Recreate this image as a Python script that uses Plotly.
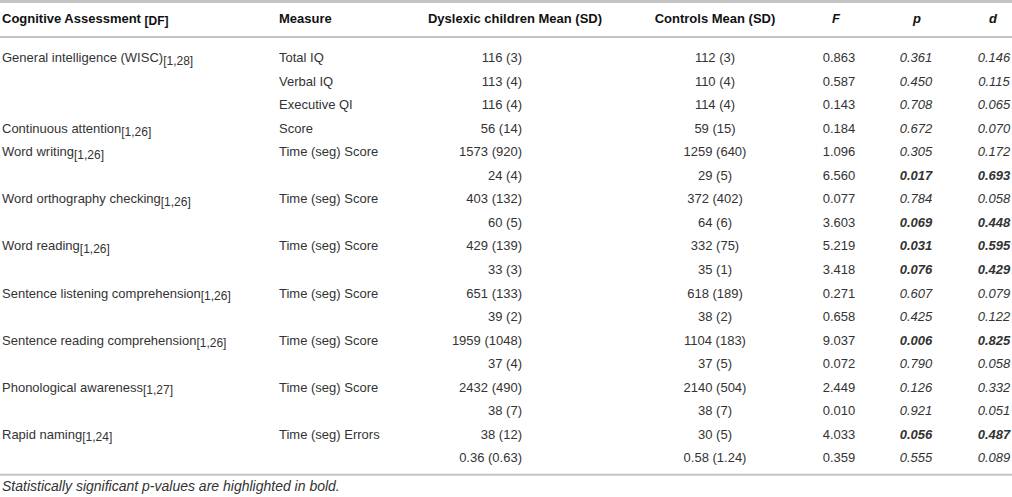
import plotly.graph_objects as go

# Table content
assessments = ["General intelligence (WISC)", "", "", "Continuous attention", "Word writing", "",
               "Word orthography checking", "", "Word reading", "", "Sentence listening comprehension", "",
               "Sentence reading comprehension", "", "Phonological awareness", "", "Rapid naming", ""]
refs = ["[1,28]", "", "", "[1,26]", "[1,26]", "", "[1,26]", "", "[1,26]", "", "[1,26]", "",
        "[1,26]", "", "[1,27]", "", "[1,24]", ""]
measures = ["Total IQ", "Verbal IQ", "Executive QI", "Score", "Time (seg) Score", "",
            "Time (seg) Score", "", "Time (seg) Score", "", "Time (seg) Score", "",
            "Time (seg) Score", "", "Time (seg) Score", "", "Time (seg) Errors", ""]
dys_mean = [116, 113, 116, 56, 1573, 24, 403, 60, 429, 33, 651, 39, 1959, 37, 2432, 38, 38, 0.36]
dys_sd = [3, 4, 4, 14, 920, 4, 132, 5, 139, 3, 133, 2, 1048, 4, 490, 7, 12, 0.63]
ctl_mean = [112, 110, 114, 59, 1259, 29, 372, 64, 332, 35, 618, 38, 1104, 37, 2140, 38, 30, 0.58]
ctl_sd = [3, 4, 4, 15, 640, 5, 402, 6, 75, 1, 189, 2, 183, 5, 504, 7, 5, 1.24]
f_vals = [0.863, 0.587, 0.143, 0.184, 1.096, 6.560, 0.077, 3.603, 5.219, 3.418, 0.271, 0.658,
          9.037, 0.072, 2.449, 0.010, 4.033, 0.359]
p_vals = [0.361, 0.450, 0.708, 0.672, 0.305, 0.017, 0.784, 0.069, 0.031, 0.076, 0.607, 0.425,
          0.006, 0.790, 0.126, 0.921, 0.056, 0.555]
d_vals = [0.146, 0.115, 0.065, 0.070, 0.172, 0.693, 0.058, 0.448, 0.595, 0.429, 0.079, 0.122,
          0.825, 0.058, 0.332, 0.051, 0.487, 0.089]
header_main = "Cognitive Assessment"
header_sub = "[DF]"
headers = ["Measure", "Dyslexic children Mean (SD)", "Controls Mean (SD)", "<i>F</i>", "<i>p</i>", "<i>d</i>"]
footnote = "Statistically significant p-values are highlighted in bold."

n = len(measures)
rows = list(range(1, n + 1))
sig = [p < 0.1 for p in p_vals]

SUB = "<sub><span style='font-size:12px'>{}</span></sub>"

def fmt_msd(m, s):
    return f"{m:g} ({s:g})"

def emph(v, b):
    t = f"<i>{v:.3f}</i>"
    return f"<b>{t}</b>" if b else t

col1 = [f"{a}{SUB.format(r)}" if a else "" for a, r in zip(assessments, refs)]
col3 = [fmt_msd(m, s) for m, s in zip(dys_mean, dys_sd)]
col4 = [fmt_msd(m, s) for m, s in zip(ctl_mean, ctl_sd)]
col5 = [f"{v:.3f}" for v in f_vals]
col6 = [emph(v, b) for v, b in zip(p_vals, sig)]
col7 = [emph(v, b) for v, b in zip(d_vals, sig)]

FONT = "Liberation Sans, Arial, sans-serif"
TXT = "#333333"
LINE = "#c4c4c4"

# column anchors (x in page px) and alignment
columns = [
    (col1, 2, "middle right"),
    (measures, 279, "middle right"),
    (col3, 522, "middle left"),
    (col4, 715, "middle center"),
    (col5, 839, "middle center"),
    (col6, 916, "middle center"),
    (col7, 994, "middle center"),
]
head_x = [279, 515, 715, 836, 917, 993]
head_pos = ["middle right", "middle center", "middle center",
            "middle center", "middle center", "middle center"]

fig = go.Figure()
for texts, x, pos in columns:
    keep = [i for i, t in enumerate(texts) if t]
    fig.add_trace(go.Scatter(
        x=[x] * len(keep), y=[rows[i] for i in keep], text=[texts[i] for i in keep],
        mode="text", textposition=pos, cliponaxis=False,
        textfont=dict(family=FONT, size=13, color=TXT), hoverinfo="skip", showlegend=False))

head_row = -0.68
fig.add_trace(go.Scatter(
    x=[2] + head_x, y=[head_row] * (len(headers) + 1),
    text=[f"<b>{header_main} {SUB.format(header_sub)}</b>"] + [f"<b>{h}</b>" for h in headers],
    mode="text", textposition=["middle right"] + head_pos, cliponaxis=False,
    textfont=dict(family=FONT, size=13, color="#111"), hoverinfo="skip", showlegend=False))

fig.add_trace(go.Scatter(
    x=[2], y=[19.2], text=[f"<i>{footnote}</i>"], mode="text", textposition="middle right",
    cliponaxis=False,
    textfont=dict(family=FONT, size=14, color=TXT), hoverinfo="skip", showlegend=False))

# horizontal rules
for yv, w in [(-1.44, 3), (0.065, 2), (18.665, 2)]:
    fig.add_shape(type="line", xref="x", yref="y", x0=0, x1=1012, y0=yv, y1=yv,
                  line=dict(color=LINE, width=w))

fig.update_xaxes(range=[0, 1012], visible=False, fixedrange=True)
fig.update_yaxes(range=[19.615, -1.5075], visible=False, fixedrange=True)
fig.update_layout(width=1012, height=497, margin=dict(l=0, r=0, t=0, b=0),
                  paper_bgcolor="white", plot_bgcolor="white")

fig.write_html("out.html", config={"displayModeBar": False},
               post_script="document.body.style.margin='0';")
